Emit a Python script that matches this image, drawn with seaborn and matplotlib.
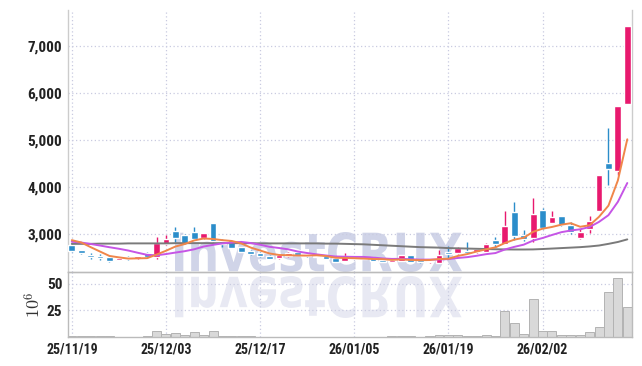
import numpy as np
import pandas as pd
import seaborn as sns
import matplotlib.pyplot as plt
from matplotlib.textpath import TextPath
from matplotlib.patches import PathPatch
from matplotlib.font_manager import FontProperties
from matplotlib.transforms import Affine2D, IdentityTransform

# daily OHLC, 60 trading days 25/11/19 .. 26/02/13
opens = [2766, 2660, 2546, 2540, 2517, 2447, 2500, 2480, 2603, 2500,
         2780, 3070, 2980, 3050, 2910, 3230, 2850, 2870, 2720, 2640,
         2600, 2540, 2490, 2525, 2610, 2570, 2530, 2540, 2495, 2432,
         2520, 2490, 2480, 2447, 2400, 2425, 2553, 2447, 2410, 2390,
         2625, 2590, 2645, 2610, 2625, 2870, 2790, 3475, 2980, 2910,
         3500, 3240, 3383, 3200, 2910, 3100, 3495, 4505, 4330, 5766]
highs = [2790, 2665, 2590, 2570, 2530, 2500, 2530, 2535, 2615, 2936,
         2980, 3140, 2990, 3150, 3030, 3235, 2900, 2880, 2730, 2650,
         2610, 2550, 2560, 2610, 2615, 2580, 2540, 2550, 2500, 2595,
         2530, 2500, 2490, 2455, 2455, 2560, 2560, 2455, 2445, 2660,
         2740, 2720, 2835, 2710, 2800, 2940, 3490, 3690, 3085, 3760,
         3550, 3480, 3390, 3250, 3100, 3380, 4260, 5255, 5730, 7430]
lows = [2625, 2570, 2460, 2445, 2410, 2440, 2445, 2475, 2485, 2465,
        2770, 2840, 2790, 2870, 2900, 2830, 2730, 2700, 2610, 2550,
        2520, 2460, 2470, 2515, 2545, 2520, 2500, 2460, 2400, 2420,
        2490, 2460, 2415, 2395, 2395, 2420, 2400, 2390, 2380, 2380,
        2480, 2580, 2590, 2600, 2620, 2730, 2780, 2870, 2850, 2830,
        3100, 3230, 3160, 3000, 2890, 3015, 3490, 4040, 4250, 5760]
closes = [2645, 2602, 2504, 2480, 2432, 2496, 2470, 2530, 2504, 2810,
          2900, 2920, 2800, 2885, 3015, 2850, 2795, 2710, 2625, 2575,
          2540, 2478, 2550, 2595, 2550, 2530, 2510, 2470, 2412, 2530,
          2500, 2470, 2425, 2400, 2447, 2553, 2410, 2400, 2420, 2553,
          2580, 2710, 2600, 2690, 2790, 2790, 3170, 2957, 2890, 3425,
          3120, 3355, 3200, 3045, 3050, 3280, 4255, 4385, 5725, 7430]
# closes of the 9 sessions before the window (for the moving averages)
prior_closes = [2780, 2800, 2820, 2790, 2820, 2850, 3000, 2950, 2900]

# 60-day moving average
ma60 = [2790, 2790, 2790, 2795, 2795, 2795, 2800, 2800, 2800, 2800,
        2800, 2805, 2805, 2805, 2805, 2805, 2805, 2805, 2805, 2805,
        2800, 2800, 2800, 2800, 2800, 2800, 2800, 2795, 2795, 2790,
        2785, 2780, 2770, 2760, 2750, 2740, 2730, 2720, 2715, 2710,
        2700, 2695, 2690, 2685, 2680, 2675, 2672, 2670, 2670, 2672,
        2680, 2690, 2700, 2710, 2720, 2735, 2755, 2790, 2830, 2885]

# volume, millions of shares
volume = [0.6, 0.5, 0.5, 0.6, 0.5, 0.3, 0.3, 0.3, 0.8, 5.7,
          3.2, 3.8, 1.7, 4.8, 1.5, 5.7, 1.0, 0.8, 0.7, 0.6,
          0.3, 0.3, 0.3, 0.3, 0.3, 0.3, 0.3, 0.3, 0.3, 0.3,
          0.3, 0.3, 0.3, 0.3, 0.5, 1.0, 0.5, 0.4, 1.2, 1.5,
          1.5, 1.5, 1.0, 1.2, 1.7, 0.5, 24.7, 13.5, 3.2, 35.7,
          6.0, 6.0, 1.7, 1.7, 1.7, 5.0, 9.7, 42.0, 55.0, 28.0]

tick_pos = [0, 10, 20, 30, 40, 50]
tick_labels = ['25/11/19', '25/12/03', '25/12/17', '26/01/05', '26/01/19', '26/02/02']

df = pd.DataFrame({'open': opens, 'high': highs, 'low': lows,
                   'close': closes, 'volume': volume, 'ma60': ma60})
df['idx'] = np.arange(len(df))
all_close = pd.Series(prior_closes + closes)
df['ma5'] = all_close.rolling(5).mean().iloc[len(prior_closes):].values
df['ma10'] = all_close.rolling(10).mean().iloc[len(prior_closes):].values

UP = '#e8196e'
DOWN = '#2b8dca'
GRID = '#c9cbe0'

sns.set_theme(style='white')
plt.rcParams['font.family'] = ['Roboto Condensed', 'DejaVu Sans']
plt.rcParams['mathtext.fontset'] = 'cm'

fig = plt.figure(figsize=(6.42, 3.66), dpi=100)
fig.patch.set_facecolor('white')
ax = fig.add_axes([0.106, 0.2568, 0.8784, 0.7159])
axv = fig.add_axes([0.106, 0.0792, 0.8784, 0.1776], sharex=ax)
for a in (ax, axv):
    a.set_facecolor('none')

# watermark with its reflection
prop = FontProperties(family='DejaVu Sans', weight='bold')
tp = TextPath((0, 0), 'InvestCRUX', size=40, prop=prop)
bb = tp.get_extents()
sx = 287 / bb.width
sy = 40 / bb.height
base = Affine2D().translate(-bb.x0, -bb.y0)
main_tr = base + Affine2D().scale(sx, sy).translate(175, 94)
refl_tr = base + Affine2D().scale(sx, -sy * 1.05).translate(175, 90)
fig.add_artist(PathPatch(main_tr.transform_path(tp), transform=IdentityTransform(),
                         facecolor='#d0d4e8', edgecolor='none', zorder=-1))
fig.add_artist(PathPatch(refl_tr.transform_path(tp), transform=IdentityTransform(),
                         facecolor='#e8e9f3', edgecolor='none', zorder=-1))

# candles
colors = [UP if c >= o else DOWN for o, c in zip(df['open'], df['close'])]
ax.vlines(df['idx'], df['low'], df['high'], colors=colors, lw=1.0, zorder=2)
body_bottom = np.minimum(df['open'], df['close'])
body_h = np.maximum(np.abs(df['close'] - df['open']), 15)
ax.bar(df['idx'], body_h, bottom=body_bottom, width=0.72, color=colors, zorder=3)

# moving averages
sns.lineplot(data=df, x='idx', y='ma60', ax=ax, color='#7a7a7a', lw=1.4, zorder=4)
sns.lineplot(data=df, x='idx', y='ma10', ax=ax, color='#c655e6', lw=1.4, zorder=4)
sns.lineplot(data=df, x='idx', y='ma5', ax=ax, color='#f0864a', lw=1.4, zorder=4)

ax.set_xlim(-0.4, 59.5)
ax.set_ylim(2191, 7766)
ax.set_yticks([3000, 4000, 5000, 6000, 7000])
ax.set_yticklabels(['{:,}'.format(v) for v in [3000, 4000, 5000, 6000, 7000]])
ax.set_xlabel('')
ax.set_ylabel('')
ax.tick_params(axis='x', labelbottom=False, length=0)
ax.tick_params(axis='y', length=0, pad=4, labelsize=11, labelcolor='#222222')
for lbl in ax.get_yticklabels():
    lbl.set_fontweight('bold')
ax.grid(True, color=GRID, linestyle=(0, (1, 2)), lw=0.9)
ax.spines['top'].set_visible(False)
for s in ('left', 'right', 'bottom'):
    ax.spines[s].set_color('#cccccc')
    ax.spines[s].set_linewidth(1)

# volume
axv.bar(df['idx'], df['volume'], width=0.95, color='#d9d9d9',
        edgecolor='#b3b3b3', linewidth=0.7, zorder=2)
axv.set_ylim(0, 61)
axv.set_yticks([25, 50])
axv.set_xticks(tick_pos)
axv.set_xticklabels(tick_labels)
axv.tick_params(axis='y', length=0, pad=4, labelsize=11, labelcolor='#222222')
axv.tick_params(axis='x', length=0, pad=4, labelsize=10, labelcolor='#222222')
for lbl in axv.get_xticklabels() + axv.get_yticklabels():
    lbl.set_fontweight('bold')
axv.set_ylabel(r'$10^{6}$', fontsize=13, color='#333333', labelpad=2)
axv.grid(True, color=GRID, linestyle=(0, (1, 2)), lw=0.9)
for s in ('left', 'right', 'bottom', 'top'):
    axv.spines[s].set_color('#bbbbbb')
    axv.spines[s].set_linewidth(1)

fig.savefig('out.png', dpi=100, facecolor='white')
